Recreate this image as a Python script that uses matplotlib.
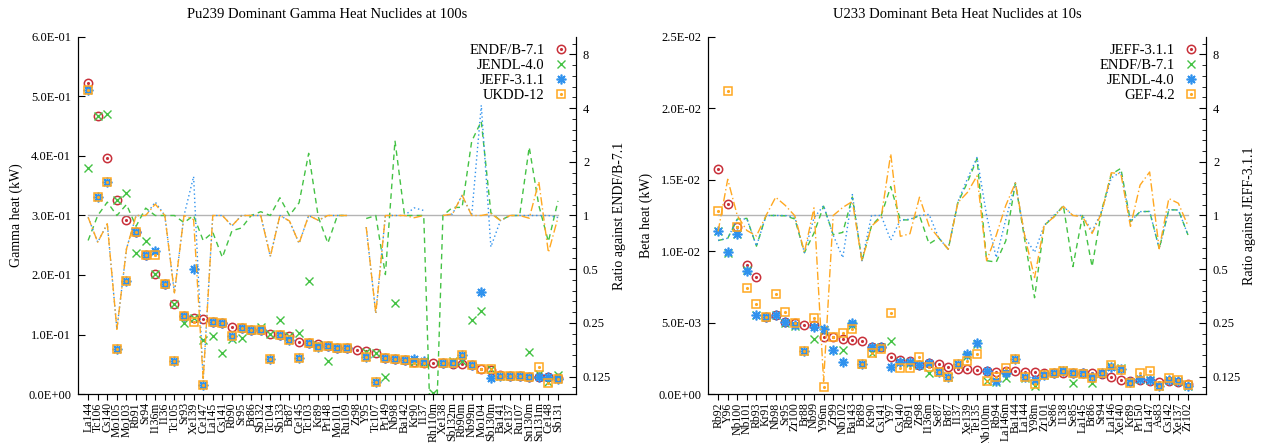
import matplotlib
matplotlib.use("Agg")
import matplotlib.pyplot as plt
import numpy as np
from matplotlib.legend_handler import HandlerTuple
from matplotlib.ticker import FixedLocator, FuncFormatter, NullFormatter

plt.rcParams["font.family"] = ["Liberation Serif", "DejaVu Serif"]

nan = np.nan

# Pu239 gamma heat at 100 s (kW), sorted by ENDF/B-7.1
pu_nuclides = ["La144", "Tc106", "Cs140", "Mo105", "Mo103", "Rb91", "Sr94", "I136m", "I136", "Tc105",
               "Sr93", "Xe139", "Ce147", "La145", "Cs141", "Rb90", "Sr95", "Br86", "Sb132", "Tc104",
               "Sb133", "Br87", "Ce145", "Tc103", "Kr89", "Pr148", "Mo101", "Ru109", "Zr98", "Y95",
               "Tc107", "Pr149", "Nb98", "Ba142", "Kr90", "I137", "Rh110m", "Xe138", "Sb132m", "Rb90m",
               "Nb99m", "Mo104", "Sb130m", "Ba141", "Xe137", "Ru107", "Sn130m", "Sn131m", "Ce148", "Sb131"]
pu_endf = [0.523, 0.467, 0.396, 0.3255, 0.2924, 0.2717, 0.2336, 0.2017, 0.1854, 0.1507,
           0.1316, 0.127, 0.1255, 0.1205, 0.1193, 0.112, 0.1104, 0.108, 0.1076, 0.1008,
           0.0986, 0.0975, 0.0874, 0.0852, 0.0835, 0.0800, 0.0768, 0.0765, 0.0734, 0.0728,
           0.0694, 0.0600, 0.0583, 0.0571, 0.0530, 0.0525, 0.0515, 0.0515, 0.0505, 0.0504,
           0.0480, 0.0415, 0.0405, 0.0320, 0.0308, 0.0305, 0.0290, 0.0290, 0.0290, 0.0265]
pu_jendl = [0.379, 0.467, 0.4706, 0.3255, 0.337, 0.2364, 0.257, 0.2017, 0.1854, 0.1507,
            0.120, 0.127, 0.0908, 0.097, 0.0695, 0.092, 0.094, 0.108, 0.113, 0.1008,
            0.124, 0.0975, 0.103, 0.190, 0.082, 0.056, 0.0768, 0.0765, nan, 0.070,
            0.0694, 0.028, 0.153, 0.0571, 0.053, 0.0525, 0.001, 0.0515, 0.056, 0.056,
            0.125, 0.140, 0.042, 0.030, 0.0308, 0.0305, 0.070, 0.033, 0.0207, 0.032]
pu_jeff = [0.511, 0.331, 0.356, 0.075, 0.190, 0.2717, 0.2336, 0.240, 0.1854, 0.0555,
           0.1316, 0.210, 0.0151, 0.1205, 0.1193, 0.098, 0.1104, 0.108, 0.1076, 0.0594,
           0.0986, 0.0908, 0.061, 0.0852, 0.0785, 0.0800, 0.0768, 0.0765, nan, 0.0627,
           0.0196, 0.060, 0.0583, 0.0571, 0.0585, 0.056, nan, 0.0515, 0.0515, 0.0655,
           0.048, 0.172, 0.027, 0.030, 0.0308, 0.0305, 0.029, 0.029, 0.029, 0.0258]
pu_ukdd = [0.511, 0.331, 0.356, 0.075, 0.190, 0.2717, 0.2336, 0.2336, 0.1854, 0.0555,
           0.1316, 0.1205, 0.0151, 0.1205, 0.1193, 0.098, 0.1104, 0.108, 0.1076, 0.0594,
           0.0986, 0.0908, 0.061, 0.0852, 0.0785, 0.0800, 0.0768, 0.0765, nan, 0.0627,
           0.0196, 0.060, 0.0583, 0.0571, 0.0515, 0.0525, nan, 0.0515, 0.0515, 0.0655,
           0.048, 0.0415, 0.0415, 0.030, 0.0308, 0.0305, 0.028, 0.0448, 0.018, 0.0258]

# U233 beta heat at 10 s (kW), sorted by JEFF-3.1.1
u_nuclides = ["Rb92", "Y96", "Nb100", "Nb101", "Rb93", "Kr91", "Nb98", "Sr95", "Zr100", "Br88",
              "Nb99", "Y96m", "Zr99", "Nb102", "Ba143", "Br89", "Kr90", "Cs141", "Y97", "Cs140",
              "Rb91", "Zr98", "I136m", "Se87", "Br87", "I137", "Xe139", "Te135", "Nb100m", "Rb94",
              "La146m", "Ba144", "La144", "Y98m", "Zr101", "Se86", "I138", "Se85", "La145", "Br86",
              "Sr94", "La146", "Xe140", "Kr89", "Pr150", "La147", "As83", "Cs142", "Xe137", "Zr102"]
u_jeff = [0.01574, 0.01330, 0.01172, 0.00903, 0.00817, 0.00541, 0.00553, 0.00502, 0.00497, 0.00486,
          0.00480, 0.00399, 0.00397, 0.00383, 0.00378, 0.00373, 0.00331, 0.00327, 0.00257, 0.00238,
          0.00233, 0.00203, 0.00215, 0.00208, 0.00187, 0.00178, 0.00173, 0.00168, 0.00163, 0.00155,
          0.00158, 0.00161, 0.00156, 0.00156, 0.00150, 0.00148, 0.00145, 0.00145, 0.00145, 0.00145,
          0.00140, 0.00117, 0.00098, 0.00092, 0.00098, 0.00093, 0.00086, 0.00090, 0.00082, 0.00072]
u_endf = [0.0114, 0.0099, 0.0112, 0.0087, 0.0055, 0.00541, 0.00553, 0.00500, 0.00475, 0.00301,
          0.00383, 0.00450, 0.00310, 0.00308, 0.00480, 0.00208, 0.00290, 0.00327, 0.00373, 0.00225,
          0.00220, 0.00203, 0.00149, 0.00156, 0.00121, 0.00210, 0.00265, 0.00350, 0.00091, 0.00085,
          0.00114, 0.00245, 0.00112, 0.00054, 0.00132, 0.00145, 0.00165, 0.00075, 0.00145, 0.00075,
          0.00150, 0.00199, 0.00180, 0.00085, 0.00103, 0.00098, 0.00056, 0.00097, 0.00088, 0.00056]
u_jendl = [0.01141, 0.00992, 0.01118, 0.00864, 0.00551, 0.00541, 0.00553, 0.00502, 0.00485, 0.00301,
           0.00466, 0.00453, 0.00308, 0.00222, 0.00495, 0.00208, 0.00331, 0.00327, 0.00187, 0.00225,
           0.00222, 0.00203, 0.00218, 0.00156, 0.00121, 0.00212, 0.00278, 0.00355, 0.00163, 0.00090,
           0.00150, 0.00245, 0.00118, 0.00097, 0.00132, 0.00148, 0.00163, 0.00145, 0.00145, 0.00118,
           0.00148, 0.00190, 0.00172, 0.00085, 0.00103, 0.00098, 0.00056, 0.00097, 0.00088, 0.00056]
u_gef = [0.01282, 0.02122, 0.01170, 0.00744, 0.00628, 0.00541, 0.00700, 0.00572, 0.00495, 0.00303,
         0.00530, 0.00047, 0.00397, 0.00425, 0.00453, 0.00208, 0.00289, 0.00318, 0.00569, 0.00182,
         0.00184, 0.00257, 0.00188, 0.00156, 0.00121, 0.00210, 0.00233, 0.00280, 0.00091, 0.00120,
         0.00180, 0.00245, 0.00118, 0.00070, 0.00132, 0.00145, 0.00163, 0.00145, 0.00143, 0.00115,
         0.00145, 0.00203, 0.00168, 0.00080, 0.00145, 0.00163, 0.00056, 0.00112, 0.00096, 0.00063]

ratio_ticks = [0.125, 0.25, 0.5, 1, 2, 4, 8]

red = "#c8303a"
green = "#44c244"
blue = "#2f92ee"
orange = "#ffa820"
gray = "#b4b4b4"

# marker kind + ratio line dashes for the 4 slots (reference first)
slots = [
    (red, "circ", None),
    (green, "x", (4, 3)),
    (blue, "star", (1, 2)),
    (orange, "sq", (6, 2, 1, 2)),
]


def marker_artists(ax, x, v, color, kind):
    kw = dict(ls="none", color=color)
    if kind == "circ":
        a = ax.plot(x, v, marker="o", mfc="none", mec=color, ms=6, mew=1.1, **kw)[0]
        b = ax.plot(x, v, marker=".", ms=2.5, **kw)[0]
        return (a, b)
    if kind == "sq":
        a = ax.plot(x, v, marker="s", mfc="none", mec=color, ms=6, mew=1.1, **kw)[0]
        b = ax.plot(x, v, marker=".", ms=2.5, **kw)[0]
        return (a, b)
    if kind == "star":
        return (ax.plot(x, v, marker=(8, 2, 0), ms=7, mew=1.2, **kw)[0],)
    return (ax.plot(x, v, marker="x", ms=6, mew=1.0, **kw)[0],)


def draw_panel(ax, title, names, series, labels, ymax, ylabel, rlabel):
    x = np.arange(len(names))
    ref = np.array(series[0], dtype=float)
    axr = ax.twinx()

    handles = []
    for vals, (color, kind, dashes) in zip(series, slots):
        vals = np.array(vals, dtype=float)
        handles.append(marker_artists(ax, x, vals, color, kind))
        ratio = vals / ref
        if dashes is None:
            axr.plot(x, ratio, color=gray, lw=1.0)
        else:
            axr.plot(x, ratio, color=color, lw=1.0, dashes=dashes)

    ax.set_xlim(-1.05, len(names) + 0.88)
    ax.set_ylim(0, ymax)
    ax.set_yticks(np.linspace(0, ymax, 7 if ymax > 0.1 else 6))
    ax.yaxis.set_major_formatter(FuncFormatter(lambda v, p: f"{v:.1E}"))
    ax.set_xticks(x)
    ax.set_xticklabels(names, rotation=90, fontsize=8.5)
    ax.tick_params(axis="x", direction="out", length=4, pad=2)
    ax.tick_params(axis="y", direction="in", length=5, labelsize=9, pad=5)
    ax.set_ylabel(ylabel, fontsize=10)
    ax.set_title(title, fontsize=10.5, pad=14)

    axr.set_yscale("log")
    axr.set_ylim(0.1, 10)
    axr.yaxis.set_major_locator(FixedLocator(ratio_ticks))
    axr.yaxis.set_major_formatter(FuncFormatter(lambda v, p: f"{v:g}"))
    minors = [2.0 ** (k + i / 5) for k in range(-4, 4) for i in range(1, 5)]
    axr.yaxis.set_minor_locator(FixedLocator(minors))
    axr.yaxis.set_minor_formatter(NullFormatter())
    axr.tick_params(axis="y", which="major", direction="in", length=5, labelsize=9, pad=5)
    axr.tick_params(axis="y", which="minor", direction="in", length=3)
    axr.set_ylabel(rlabel, fontsize=10, labelpad=1)

    for a in (ax, axr):
        a.spines["top"].set_visible(False)

    axr.legend(handles, labels, handler_map={tuple: HandlerTuple(ndivide=1)},
               loc="upper right", markerfirst=False, frameon=False, fontsize=10.5,
               handlelength=1.0, handletextpad=0.65, labelspacing=0.12,
               borderaxespad=0.3, borderpad=0.2)


fig = plt.figure(figsize=(12.61, 4.43), dpi=100)
ax1 = fig.add_axes([0.0619, 0.1106, 0.3949, 0.8059])
ax2 = fig.add_axes([0.5615, 0.1106, 0.3949, 0.8059])

draw_panel(ax1, "Pu239 Dominant Gamma Heat Nuclides at 100s", pu_nuclides,
           [pu_endf, pu_jendl, pu_jeff, pu_ukdd],
           ["ENDF/B-7.1", "JENDL-4.0", "JEFF-3.1.1", "UKDD-12"],
           0.6, "Gamma heat (kW)", "Ratio against ENDF/B-7.1")
draw_panel(ax2, "U233 Dominant Beta Heat Nuclides at 10s", u_nuclides,
           [u_jeff, u_endf, u_jendl, u_gef],
           ["JEFF-3.1.1", "ENDF/B-7.1", "JENDL-4.0", "GEF-4.2"],
           0.025, "Beta heat (kW)", "Ratio against JEFF-3.1.1")

fig.savefig("out.png", dpi=100)
